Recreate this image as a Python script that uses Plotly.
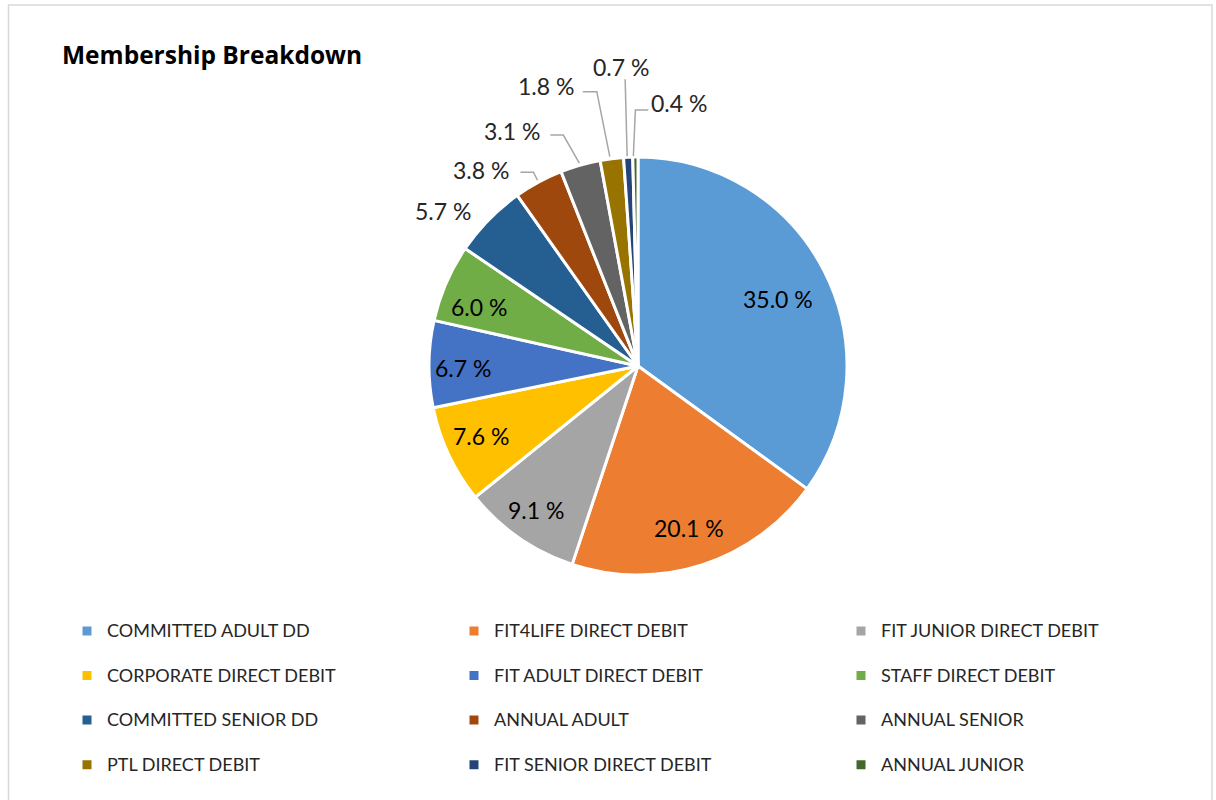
import math
import plotly.graph_objects as go

categories = [
    "COMMITTED ADULT DD", "FIT4LIFE DIRECT DEBIT", "FIT JUNIOR DIRECT DEBIT",
    "CORPORATE DIRECT DEBIT", "FIT ADULT DIRECT DEBIT", "STAFF DIRECT DEBIT",
    "COMMITTED SENIOR DD", "ANNUAL ADULT", "ANNUAL SENIOR",
    "PTL DIRECT DEBIT", "FIT SENIOR DIRECT DEBIT", "ANNUAL JUNIOR",
]
shares = [35.0, 20.1, 9.1, 7.6, 6.7, 6.0, 5.7, 3.8, 3.1, 1.8, 0.7, 0.4]
colors = ["#5B9BD5", "#ED7D31", "#A5A5A5", "#FFC000", "#4472C4", "#70AD47",
          "#255E91", "#9E480E", "#636363", "#997300", "#264478", "#43682B"]

# ---- layout / style (not data) ----
W, H = 1216, 800
cx, cy, r = 638, 366, 209
LABEL_FONT = "Lato, 'Open Sans', sans-serif"
TITLE_FONT = "'Open Sans', Lato, sans-serif"
# inside labels: radial factor of the label centre and a small pixel nudge
inside_k = [0.74, 0.79, 0.84, 0.82, 0.84, 0.81]
inside_nudge = [(2, 3), (0, 5), (-2, 0), (-2, -3), (1, 4), (-4, 8)]
# outside labels: label centre offset (px) from the slice's rim mid-point
outside_off = [(-46, -9), (-57, -12), (-68, -34), (-66, -73), (-7, -90), (44, -54)]
# leader lines (px offsets from rim mid-point), None = no line
leaders = [
    None,
    [(-18, -10), (-5, -10), (-1, -2)],
    [(-30, -30), (-17, -30), (-1, -2)],
    [(-29, -67), (-15, -67), (-2, -2)],
    [(-3, -78), (-1, -1)],
    [(13, -47), (0, -47), (-2, -1)],
]


def px(x, y):
    return x / W, 1 - y / H


fig = go.Figure(go.Pie(
    labels=["<span style='font-size:18px'>%s</span><br> " % c for c in categories],
    values=shares,
    sort=False,
    direction="clockwise",
    rotation=0,
    marker=dict(colors=colors, line=dict(color="white", width=3)),
    textinfo="none",
    domain=dict(x=[(cx - r) / W, (cx + r) / W], y=[1 - (cy + r) / H, 1 - (cy - r) / H]),
    hoverinfo="label+percent",
))

annotations = []
shapes = []
total = sum(shares)
cum = 0.0
n_in = len(inside_k)
for i, v in enumerate(shares):
    mid = (cum + v / 2) / total * 2 * math.pi
    cum += v
    ux, uy = math.sin(mid), -math.cos(mid)
    if i < n_in:
        lx = cx + inside_k[i] * r * ux + inside_nudge[i][0]
        ly = cy + inside_k[i] * r * uy + inside_nudge[i][1]
        color = "black"
    else:
        j = i - n_in
        ax_, ay_ = cx + r * ux, cy + r * uy
        lx, ly = ax_ + outside_off[j][0], ay_ + outside_off[j][1]
        color = "#262626"
        if leaders[j]:
            pts = [px(ax_ + dx, ay_ + dy) for dx, dy in leaders[j]]
            path = "M %f,%f " % pts[0] + " ".join("L %f,%f" % p for p in pts[1:])
            shapes.append(dict(type="path", xref="paper", yref="paper", path=path,
                               line=dict(color="#A6A6A6", width=1.5)))
    x, y = px(lx, ly)
    annotations.append(dict(x=x, y=y, xref="paper", yref="paper", showarrow=False,
                            text="%.1f %%" % v, xanchor="center", yanchor="middle",
                            font=dict(family=LABEL_FONT, size=23, color=color)))

shapes.append(dict(type="rect", xref="paper", yref="paper",
                   x0=8.5 / W, x1=1212 / W, y0=-0.05, y1=1 - 5 / H,
                   line=dict(color="#D9D9D9", width=1.5), fillcolor="rgba(0,0,0,0)"))

fig.update_layout(
    width=W, height=H,
    margin=dict(l=0, r=0, t=0, b=0, autoexpand=False),
    paper_bgcolor="white",
    title=dict(text="<b>Membership Breakdown</b>", x=62 / W, xanchor="left",
               y=1 - 55 / H, yanchor="middle", yref="container",
               font=dict(family=TITLE_FONT, size=24.5, color="black")),
    showlegend=True,
    legend=dict(orientation="h", x=67 / W, xanchor="left", y=1 - 614 / H, yanchor="top",
                entrywidth=342, entrywidthmode="pixels", valign="top",
                bgcolor="rgba(0,0,0,0)",
                font=dict(family=LABEL_FONT, size=16, color="#262626"),
                traceorder="normal", itemclick=False),
    annotations=annotations,
    shapes=shapes,
)

fig.write_html("out.html", config={"displayModeBar": False},
               post_script="document.body.style.margin='0';document.body.style.overflow='hidden';")
